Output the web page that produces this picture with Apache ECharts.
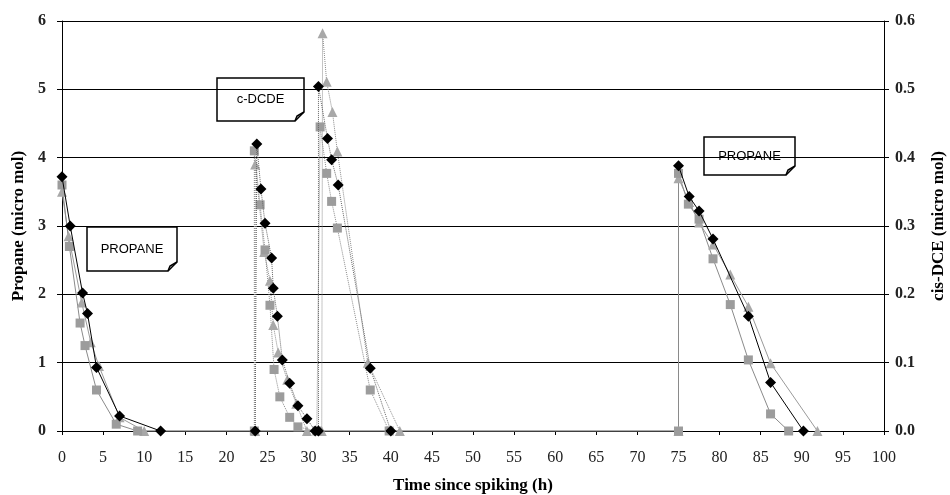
<!DOCTYPE html>
<html>
<head>
<meta charset="utf-8">
<script src="https://cdn.jsdelivr.net/npm/echarts@6/dist/echarts.min.js"></script>
<style>
  html, body { margin: 0; padding: 0; background: #fff; }
  #chart { width: 950px; height: 495px; }
</style>
</head>
<body>
<div id="chart"></div>
<script>
// propane replicates (left axis, micro mol) as [time h, value]; '-' breaks the line
const propaneA = [[0, 3.72], [1, 3.0], [2.5, 2.02], [3.1, 1.72], [4.2, 0.93], [7, 0.22], [12, 0], '-',
  [75, 3.88], [76.3, 3.43], [77.5, 3.22], [79.2, 2.81], [83.5, 1.68], [86.2, 0.71], [90.2, 0]]
const propaneB = [[0, 3.6], [0.9, 2.7], [2.2, 1.58], [2.8, 1.25], [4.2, 0.6], [6.6, 0.1], [9.2, 0],
  [75, 0], [75, 3.77], [76.2, 3.32], [77.5, 3.1], [79.2, 2.52], [81.3, 1.85], [83.5, 1.04], [86.2, 0.25], [88.4, 0]]
const propaneC = [[0, 3.5], [0.8, 2.85], [2.4, 1.88], [3.5, 1.3], [4.5, 0.95], [7, 0.2], [10, 0],
  [75, 0], [75, 3.7], [76.3, 3.35], [77.5, 3.05], [79.2, 2.73], [81.3, 2.29], [83.5, 1.82], [86.2, 0.99], [91.9, 0]]

// cis-DCE replicates (right axis, micro mol)
const dceA = [[23.5, 0], [23.7, 0.42], [24.2, 0.354], [24.7, 0.304], [25.5, 0.253], [25.7, 0.209], [26.2, 0.168],
  [26.8, 0.104], [27.7, 0.07], [28.7, 0.037], [29.8, 0.018], [30.8, 0], [31.2, 0], [31.2, 0.504], [32.3, 0.428],
  [32.8, 0.397], [33.6, 0.36], [37.5, 0.092], [40, 0]]
const dceB = [[23.4, 0], [23.4, 0.41], [24.1, 0.331], [24.7, 0.265], [25.3, 0.184], [25.8, 0.09], [26.5, 0.05],
  [27.7, 0.02], [28.7, 0.006], [31, 0], [31.4, 0.445], [32.2, 0.377], [32.8, 0.336], [33.5, 0.297], [37.5, 0.06], [39.8, 0]]
const dceC = [[23.5, 0], [23.5, 0.39], [24.6, 0.262], [25.3, 0.22], [25.7, 0.155], [26.3, 0.115], [27.4, 0.075],
  [28.5, 0.04], [29.8, 0], [31.6, 0], [31.7, 0.582], [32.2, 0.511], [32.9, 0.467], [33.5, 0.409], [37.2, 0.1], [41.1, 0]]

const xTicks = { min: 0, max: 100, interval: 5 }
const leftTicks = { min: 0, max: 6, interval: 1 }
const rightTicks = { min: 0, max: 0.6, interval: 0.1 }

const serif = '"Liberation Serif", "DejaVu Serif", serif'
const sans = '"Liberation Sans", Arial, sans-serif'

function note(x, y, w, h, text) {
  return {
    type: 'group',
    x: x,
    y: y,
    z: 100,
    children: [
      {
        type: 'polygon',
        shape: { points: [[0, 0], [w, 0], [w, h - 9], [w - 9, h], [0, h]] },
        style: { fill: '#fff', stroke: '#000', lineWidth: 1.5 }
      },
      {
        type: 'polyline',
        shape: { points: [[w - 9, h], [w - 7, h - 5], [w, h - 9]] },
        style: { fill: null, stroke: '#000', lineWidth: 1.5 }
      },
      {
        type: 'text',
        x: w / 2,
        y: h / 2,
        style: { text: text, font: '13px ' + sans, fill: '#000', align: 'center', verticalAlign: 'middle' }
      }
    ]
  }
}

function series(name, data, yIdx, symbol, size, color, lineColor, lineType) {
  return {
    name: name,
    type: 'line',
    yAxisIndex: yIdx,
    data: data,
    symbol: symbol,
    symbolSize: size,
    showAllSymbol: true,
    connectNulls: false,
    itemStyle: { color: color },
    lineStyle: { color: lineColor, width: 1, type: lineType },
    z: symbol === 'diamond' ? 5 : 3
  }
}

const chart = echarts.init(document.getElementById('chart'))
chart.setOption({
  animation: false,
  backgroundColor: '#fff',
  grid: { left: 62, right: 66, top: 21, bottom: 64, outerBoundsMode: 'none' },
  xAxis: {
    type: 'value',
    min: xTicks.min,
    max: xTicks.max,
    interval: xTicks.interval,
    name: 'Time since spiking (h)',
    nameLocation: 'middle',
    nameGap: 46,
    nameTextStyle: { fontFamily: serif, fontWeight: 'bold', fontSize: 17, color: '#000' },
    axisLine: { onZero: false, lineStyle: { color: '#000', width: 1 } },
    axisTick: { show: true, length: 4, lineStyle: { color: '#000' } },
    axisLabel: { fontFamily: serif, fontSize: 16, color: '#222', margin: 19 },
    splitLine: { show: false }
  },
  yAxis: [
    {
      type: 'value',
      min: leftTicks.min,
      max: leftTicks.max,
      interval: leftTicks.interval,
      name: 'Propane (micro mol)',
      nameLocation: 'middle',
      nameGap: 28,
      nameTextStyle: { fontFamily: serif, fontWeight: 'bold', fontSize: 17, color: '#000' },
      axisLine: { show: true, lineStyle: { color: '#000', width: 1 } },
      axisTick: { show: true, length: 5, lineStyle: { color: '#000' } },
      axisLabel: { fontFamily: serif, fontSize: 16, fontWeight: 'bold', color: '#222', margin: 16 },
      splitLine: { show: true, lineStyle: { color: '#000', width: 1 } }
    },
    {
      type: 'value',
      position: 'right',
      min: rightTicks.min,
      max: rightTicks.max,
      interval: rightTicks.interval,
      name: 'cis-DCE (micro mol)',
      nameLocation: 'middle',
      nameGap: 46,
      nameRotate: 90,
      nameTextStyle: { fontFamily: serif, fontWeight: 'bold', fontSize: 17, color: '#000' },
      axisLine: { show: true, lineStyle: { color: '#000', width: 1 } },
      axisTick: { show: true, length: 5, lineStyle: { color: '#000' } },
      axisLabel: {
        fontFamily: serif, fontSize: 16, fontWeight: 'bold', color: '#222', margin: 11,
        formatter: v => v.toFixed(1)
      },
      splitLine: { show: false }
    }
  ],
  series: [
    series('Propane C', propaneC, 0, 'triangle', 10, '#a8a8a8', '#9a9a9a', 'solid'),
    series('Propane B', propaneB, 0, 'rect', 9, '#9c9c9c', '#8a8a8a', 'solid'),
    series('Propane A', propaneA, 0, 'diamond', 11, '#000', '#000', 'solid'),
    series('cis-DCE C', dceC, 1, 'triangle', 10, '#a8a8a8', '#8a8a8a', 'dotted'),
    series('cis-DCE B', dceB, 1, 'rect', 9, '#9c9c9c', '#8a8a8a', 'dotted'),
    series('cis-DCE A', dceA, 1, 'diamond', 11, '#000', '#666', 'dotted')
  ],
  graphic: [
    note(87, 227, 90, 44, 'PROPANE'),
    note(217, 78, 87, 43, 'c-DCDE'),
    note(704, 137, 91, 38, 'PROPANE')
  ]
})
</script>
</body>
</html>
